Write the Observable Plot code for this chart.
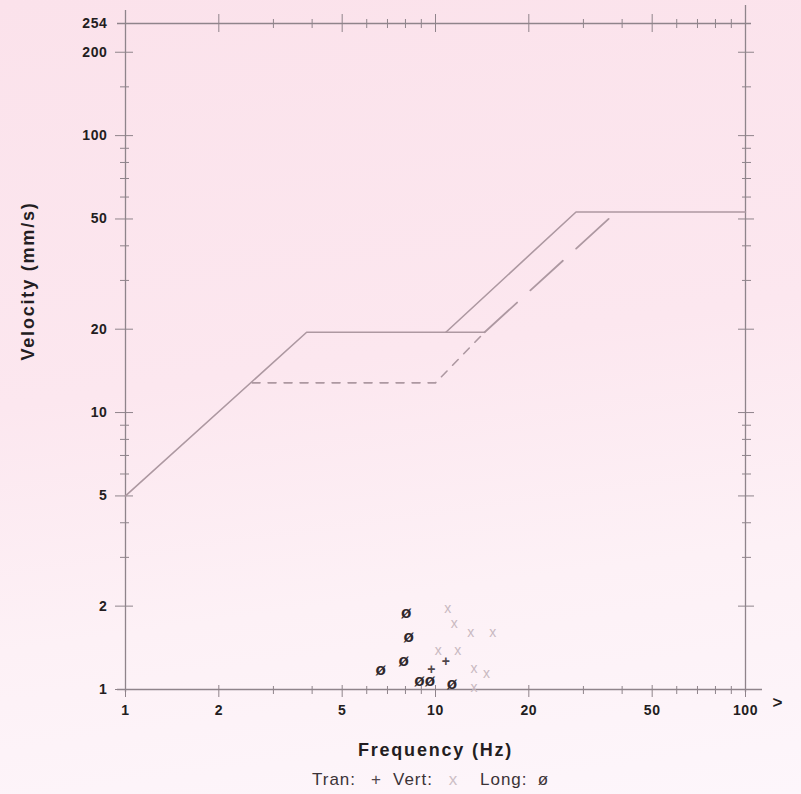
<!DOCTYPE html>
<html>
<head>
<meta charset="utf-8">
<script src="https://cdn.jsdelivr.net/npm/d3@7"></script>
<script src="https://cdn.jsdelivr.net/npm/@observablehq/plot@0.6"></script>
<style>
  html, body { margin: 0; padding: 0; }
  body {
    width: 801px; height: 794px; overflow: hidden;
    background: linear-gradient(172deg, #fbe2eb 0%, #fce7ef 45%, #fdf1f6 72%, #fdf6fb 100%);
    font-family: "Liberation Sans", Arial, sans-serif;
  }
  #chart { position: relative; width: 801px; height: 794px; }
  #legend span {
    position: absolute; top: 770px; font-size: 17px; line-height: 20px;
    color: #3b3337; letter-spacing: 1px; white-space: nowrap;
  }
  #legend span.sym { transform: translateX(-50%); letter-spacing: 0; }
  g[aria-description="axis-title"] text { letter-spacing: 1.8px; }
  g[aria-description="axis-number"] text { letter-spacing: 0.6px; }
</style>
</head>
<body>
<div id="chart"><div id="legend"></div></div>
<script>
// Frequency / velocity criteria curves (Hz, mm/s)
const solidLowF  = [1, 3.84, 14.4];
const solidLowV  = [5.0, 19.5, 19.5];
const solidHighF = [10.8, 28.4, 100];
const solidHighV = [19.5, 53, 53];
const plasterF   = [2.56, 10, 14.4];
const plasterV   = [12.8, 12.8, 19.5];
const longDashF  = [14.4, 36.8];
const longDashV  = [19.5, 50.9];

// Measured peak particle velocities by component
const tranF = [10.8, 9.7];
const tranV = [1.26, 1.18];
const vertF = [10.95, 11.5, 13.0, 15.3, 10.2, 11.8, 13.3, 14.6, 13.3];
const vertV = [1.96, 1.73, 1.61, 1.61, 1.38, 1.38, 1.19, 1.14, 1.02];
const longF = [8.05, 8.19, 7.9, 6.65, 8.88, 9.6, 11.3];
const longV = [1.89, 1.55, 1.27, 1.18, 1.08, 1.08, 1.05];

// Axis ticks
const xLabels = [1, 2, 5, 10, 20, 50, 100];
const xMinor  = [3, 4, 6, 7, 8, 9, 30, 40, 60, 70, 80, 90];
const yLabels = [1, 2, 5, 10, 20, 50, 100, 200, 254];
const yMajorTicks = [1, 2, 5, 10, 20, 50, 100, 200];
const yMinor  = [3, 4, 6, 7, 8, 9, 30, 40, 60, 70, 80, 90, 150];

const rows = (fs, vs) => fs.map((f, i) => ({f, v: vs[i]}));

const axisColor = "#8f848b";
const curveColor = "#ad98a1";
const labelColor = "#231d21";

const tickOpts = {fill: "none", label: null, stroke: axisColor, strokeWidth: 1};

const chart = Plot.plot({
  width: 801,
  height: 768,
  marginLeft: 125,
  marginRight: 56,
  marginTop: 23,
  marginBottom: 79,
  x: {type: "log", domain: [1, 100]},
  y: {type: "log", domain: [1, 254]},
  style: {background: "transparent", fontFamily: "'Liberation Sans', Arial, sans-serif", overflow: "visible"},
  marks: [
    // frame lines
    Plot.ruleY([1], {stroke: axisColor, strokeWidth: 1.3, insetLeft: -8, insetRight: -17}),
    Plot.ruleY([254], {stroke: axisColor, strokeWidth: 1.3, insetLeft: -8, insetRight: -6}),
    Plot.ruleX([1], {stroke: axisColor, strokeWidth: 1.3, insetTop: -13, insetBottom: -3}),
    Plot.ruleX([100], {stroke: axisColor, strokeWidth: 1.3, insetTop: -18, insetBottom: -3}),

    // crossing tick marks on all four sides
    Plot.axisX({anchor: "bottom", ticks: xLabels, tickSize: 12, dy: -4, ...tickOpts}),
    Plot.axisX({anchor: "bottom", ticks: xMinor, tickSize: 8, dy: -3, ...tickOpts}),
    Plot.axisX({anchor: "top", ticks: xLabels, tickSize: 18, dy: 8, ...tickOpts}),
    Plot.axisX({anchor: "top", ticks: xMinor, tickSize: 9, dy: 4, ...tickOpts}),
    Plot.axisY({anchor: "left", ticks: yMajorTicks, tickSize: 18, dx: 8, ...tickOpts}),
    Plot.axisY({anchor: "left", ticks: yMinor, tickSize: 9, dx: 4, ...tickOpts}),
    Plot.axisY({anchor: "right", ticks: yMajorTicks, tickSize: 16, dx: -8, ...tickOpts}),
    Plot.axisY({anchor: "right", ticks: yMinor, tickSize: 9, dx: -4, ...tickOpts}),

    // tick labels
    Plot.axisX({anchor: "bottom", ticks: xLabels, tickSize: 0, tickPadding: 16, tickFormat: d => String(d),
      fontSize: 14, fontWeight: "bold", fill: labelColor, label: null, ariaDescription: "axis-number"}),
    Plot.axisY({anchor: "left", ticks: yLabels, tickSize: 0, tickPadding: 18, tickFormat: d => String(d),
      fontSize: 14, fontWeight: "bold", fill: labelColor, label: null, ariaDescription: "axis-number"}),
    Plot.text([">"], {text: d => d, frameAnchor: "bottom-right", dx: 37, dy: 18, fontSize: 17, fontWeight: "bold", fill: labelColor}),

    // axis titles
    Plot.text(["Frequency (Hz)"], {text: d => d, frameAnchor: "bottom", dy: 66, fontSize: 18, fontWeight: "bold",
      fill: labelColor, ariaDescription: "axis-title"}),
    Plot.text(["Velocity (mm/s)"], {text: d => d, frameAnchor: "left", dx: -97, dy: 4, rotate: -90, fontSize: 18,
      fontWeight: "bold", fill: labelColor, ariaDescription: "axis-title"}),

    // criteria curves
    Plot.line(rows(solidLowF, solidLowV), {x: "f", y: "v", stroke: curveColor, strokeWidth: 1.6}),
    Plot.line(rows(solidHighF, solidHighV), {x: "f", y: "v", stroke: curveColor, strokeWidth: 1.6}),
    Plot.line(rows(plasterF, plasterV), {x: "f", y: "v", stroke: curveColor, strokeWidth: 1.6, strokeDasharray: "8,8"}),
    Plot.line(rows(longDashF, longDashV), {x: "f", y: "v", stroke: curveColor, strokeWidth: 1.8, strokeDasharray: "44,18"}),

    // measured points
    Plot.text(rows(vertF, vertV), {x: "f", y: "v", text: () => "x", fontSize: 14, fill: "#c9b9c1"}),
    Plot.text(rows(tranF, tranV), {x: "f", y: "v", text: () => "+", fontSize: 14, fontWeight: "bold", fill: "#4f464b"}),
    Plot.text(rows(longF, longV), {x: "f", y: "v", text: () => "ø", fontSize: 17, fontWeight: "bold", fill: "#2f282c"})
  ]
});

const container = document.getElementById("chart");
container.insertBefore(chart, container.firstChild);

// component legend below the axis title
const legendItems = [
  {text: "Tran:", left: 312, cls: "", color: null},
  {text: "+", left: 376, cls: "sym", color: "#4f464b"},
  {text: "Vert:", left: 393, cls: "", color: null},
  {text: "x", left: 453, cls: "sym", color: "#cdbfc6"},
  {text: "Long:", left: 480, cls: "", color: null},
  {text: "ø", left: 543, cls: "sym", color: "#3b3337"}
];
const legend = d3.select("#legend");
legendItems.forEach(d => {
  const s = legend.append("span").attr("class", d.cls).style("left", d.left + "px").text(d.text);
  if (d.color) s.style("color", d.color);
});
</script>
</body>
</html>
